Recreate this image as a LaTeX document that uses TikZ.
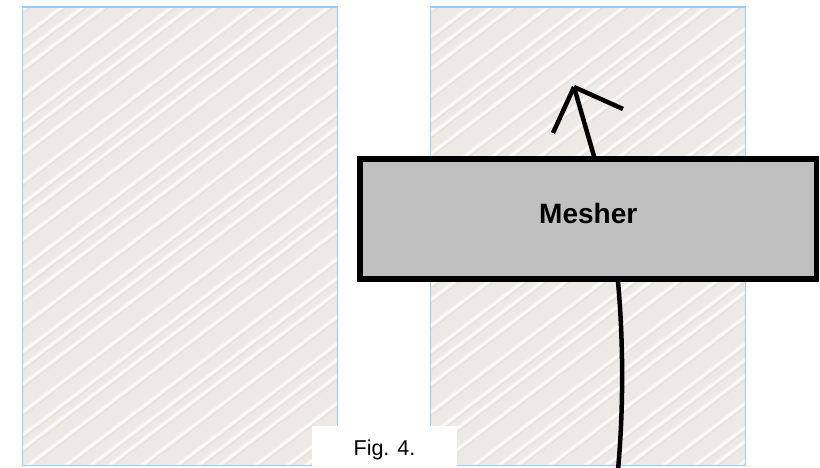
\documentclass[tikz,border=0pt]{standalone}
\usepackage{fontspec}
\setmainfont{Liberation Sans}
\definecolor{paper}{RGB}{237,234,229}
\definecolor{paperline}{RGB}{222,218,211}
\definecolor{panelblue}{RGB}{153,204,255}
\definecolor{meshgray}{RGB}{192,192,192}
\begin{document}
\begin{tikzpicture}[x=1pt,y=-1pt,
  stripes/.style={path picture={
    \foreach \k in {-19,...,19}{
      \pgfmathsetmacro{\off}{\k*21+5*sin(\k*97)+350}
      \draw[paperline, line width=1.4pt, opacity=0.55]
        (path picture bounding box.center) ++(-500,{\off+3.5}) -- ++(1000,-760);
      \draw[white, line width=4pt, opacity=0.45]
        (path picture bounding box.center) ++(-500,\off) -- ++(1000,-760);
      \draw[white, line width=1.6pt, opacity=0.8]
        (path picture bounding box.center) ++(-500,\off) -- ++(1000,-760);
    }}},
  panel/.style={draw=panelblue, line width=1.4pt, fill=paper,
    minimum width=315pt, minimum height=458.5pt, inner sep=0pt, outer sep=0pt, stripes},
  mesherbox/.style={draw=black, line width=5.5pt, fill=meshgray,
    minimum width=456.5pt, minimum height=120pt, inner sep=0pt,
    font=\bfseries\fontsize{28}{30}\selectfont, text height=20pt, text depth=11.5pt},
  figlabel/.style={fill=white, minimum width=145pt, minimum height=42pt, inner sep=0pt,
    font=\fontsize{21.5}{24}\selectfont, text height=21pt, text depth=3.5pt},
  flow/.style={line width=4.5pt, draw=black}
]
\useasboundingbox (0,0) rectangle (820,468);
\node[panel] (lpanel) at (180,236.25) {};
\node[panel] (rpanel) at (588.1,236.25) {};
\node[figlabel] (fig) at (384.5,447) {Fig. 4.};
\node[mesherbox] (mesher) at (588.25,219) {Mesher};
\coordinate (src) at (618,470);
\coordinate (tip) at (574,87);
\draw[flow] (src) .. controls +(5.5,-60) and +(5.5,60) .. (src |- mesher.south);
\draw[flow] ([xshift=5.75pt]mesher.north) -- (tip);
\draw[flow] (tip) -- ++(-21,46);
\draw[flow] (tip) -- ++(49,22);
\end{tikzpicture}
\end{document}
